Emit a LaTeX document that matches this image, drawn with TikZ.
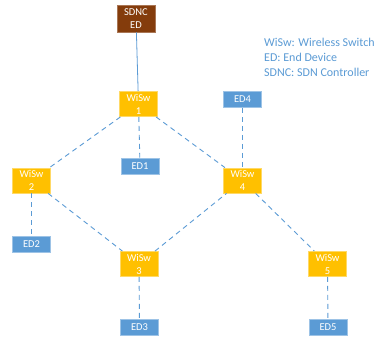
\documentclass[tikz,border=0pt]{standalone}
\usepackage{fontspec}
\setmainfont{Carlito}
\definecolor{sdnc}{HTML}{843C0C}
\definecolor{sw}{HTML}{FFC000}
\definecolor{swb}{HTML}{FFD966}
\definecolor{ed}{HTML}{5B9BD5}
\definecolor{edb}{HTML}{9DC3E6}
\definecolor{ln}{HTML}{5B9BD5}
\begin{document}
\begin{tikzpicture}[x=1pt,y=-1pt,
  box/.style={rectangle,minimum width=38pt,inner sep=0pt,text=white,font=\fontsize{10.5}{13}\selectfont,align=center,line width=0.8pt},
  swbox/.style={box,fill=sw,draw=swb,minimum height=25pt},
  edbox/.style={box,fill=ed,draw=edb,minimum height=16pt},
  ctrl/.style={box,fill=sdnc,draw=sdnc!70!white,minimum height=27pt},
  dl/.style={draw=ln,line width=0.9pt,dash pattern=on 5pt off 4pt},
  sl/.style={draw=ln,line width=0.8pt},
  legend/.style={text=ln,font=\fontsize{12}{15}\selectfont,align=left,anchor=north west,inner sep=0pt}]
\useasboundingbox (0,0) rectangle (381,338);
\fill[white] (0,0) rectangle (381,338);
\node[ctrl] (c) at (136,18.5) {SDNC\\ED};
\node[swbox] (s1) at (138.5,104) {WiSw\\1};
\node[swbox] (s2) at (31.5,180.5) {WiSw\\2};
\node[swbox] (s3) at (139,264) {WiSw\\3};
\node[swbox] (s4) at (242.5,180.5) {WiSw\\4};
\node[swbox] (s5) at (327.5,264) {WiSw\\5};
\node[edbox] (e1) at (140,166) {ED1};
\node[edbox] (e2) at (31.5,244) {ED2};
\node[edbox] (e3) at (139.5,327) {ED3};
\node[edbox] (e4) at (242.5,99.5) {ED4};
\node[edbox] (e5) at (328,327) {ED5};
\node[legend] (lg) at (264,38) {WiSw: Wireless Switch\\ED: End Device\\SDNC: SDN Controller};
\draw[sl] (c) -- (s1);
\draw[dl] (s1) -- (s2);
\draw[dl] (s1) -- (e1);
\draw[dl] (s1) -- (s4);
\draw[dl] (s2) -- (e2);
\draw[dl] (s2) -- (s3);
\draw[dl] (s3) -- (e3);
\draw[dl] (s3) -- (s4);
\draw[dl] (e4) -- (s4);
\draw[dl] (s4) -- (s5);
\draw[dl] (s5) -- (e5);
\end{tikzpicture}
\end{document}
